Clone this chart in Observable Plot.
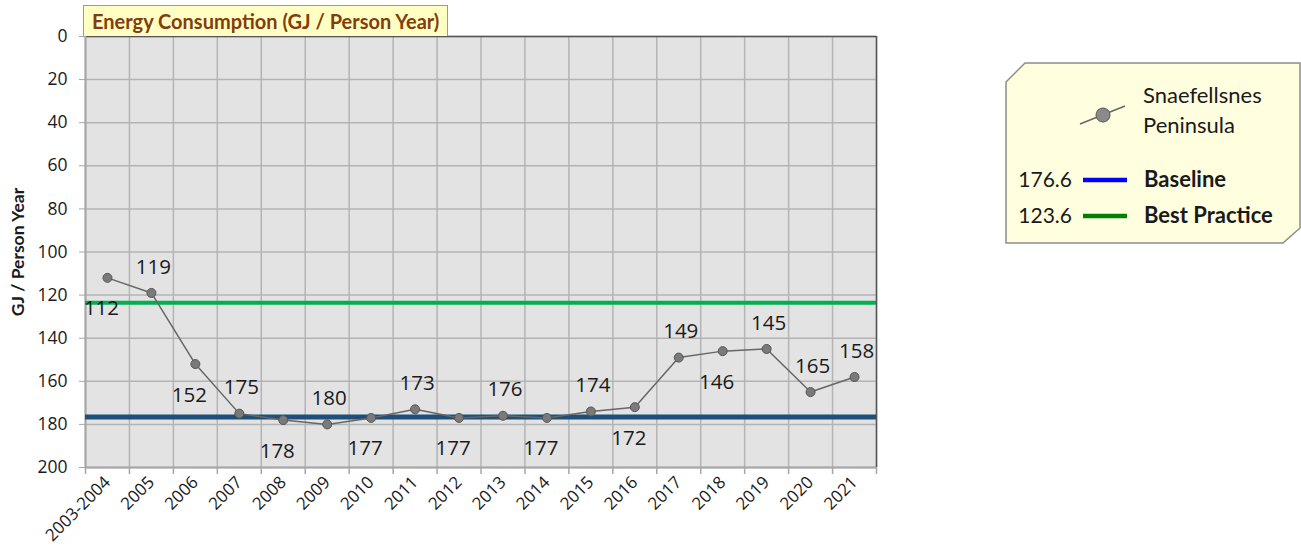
<!DOCTYPE html>
<html>
<head>
<meta charset="utf-8">
<script src="https://cdn.jsdelivr.net/npm/d3@7"></script>
<script src="https://cdn.jsdelivr.net/npm/@observablehq/plot@0.6"></script>
<style>
  html, body { margin: 0; padding: 0; background: #fff; }
  body { width: 1301px; height: 554px; position: relative; overflow: hidden; font-family: Lato, "Open Sans", sans-serif; }
  #chart { position: absolute; left: 0; top: 0; }
  #title { position: absolute; left: 83px; top: 5px; width: 365px; height: 31px; background: #ffffc4; border: 1px solid #9a9a9a; border-bottom: none;
           color: #843c0c; font-weight: bold; font-size: 20px; line-height: 31px; padding-left: 8px; box-sizing: border-box; white-space: nowrap; }
  #legend { position: absolute; left: 1000px; top: 58px; }
</style>
</head>
<body>
<div id="chart"></div>
<div id="title"></div>
<div id="legend"></div>
<script>
// ---- data ----
const titleText = "Energy Consumption (GJ / Person Year)";
const yLabel = "GJ / Person Year";
const categories = ["2003-2004","2005","2006","2007","2008","2009","2010","2011","2012","2013","2014","2015","2016","2017","2018","2019","2020","2021"];
const values = [112,119,152,175,178,180,177,173,177,176,177,174,172,149,146,145,165,158];
const labelSide = ["below","above","below","above","below","above","below","above","below","above","below","above","below","above","below","above","above","above"];
const yTicks = [0,20,40,60,80,100,120,140,160,180,200];
const seriesName = ["Snaefellsnes", "Peninsula"];
const baselineValue = 176.6;
const bestPracticeValue = 123.6;
const refNames = ["Baseline", "Best Practice"];

// ---- table ----
const rows = categories.map((c, i) => ({ pos: i + 0.5, cat: c, v: values[i], side: labelSide[i] }));
const edges = d3.range(0, categories.length + 1);
const centers = d3.range(categories.length).map(i => i + 0.5);

const numFont = "'Open Sans', sans-serif";
const gridColor = "#b4b4b4";
const chart = Plot.plot({
  width: 890, height: 554,
  marginLeft: 85, marginRight: 14, marginTop: 36, marginBottom: 87,
  style: { fontFamily: numFont, color: "#1a1a1a", background: "transparent" },
  x: { type: "linear", domain: [0, categories.length], axis: null },
  y: { domain: [0, 200], reverse: true, axis: null },
  marks: [
    Plot.frame({ fill: "#e3e3e3", stroke: null }),
    Plot.ruleX(edges, { stroke: gridColor, strokeWidth: 1.5 }),
    Plot.ruleY(yTicks, { stroke: gridColor, strokeWidth: 1.5 }),
    Plot.ruleY([0], { stroke: "#555", strokeWidth: 1.5 }),
    Plot.ruleX([categories.length], { stroke: "#555", strokeWidth: 1.5 }),
    Plot.ruleY([200], { stroke: "#a6a6a6", strokeWidth: 2 }),
    Plot.ruleX([0], { stroke: "#a6a6a6", strokeWidth: 2 }),
    Plot.axisX({ ticks: edges, tickFormat: () => "", tickSize: 7, stroke: "#a6a6a6", strokeWidth: 1.5, label: null }),
    Plot.axisX({ ticks: centers, tickFormat: d => categories[Math.round(d - 0.5)], tickSize: 0, tickPadding: 12, tickRotate: -45, fontSize: 17, fill: "#1a1a1a", label: null }),
    Plot.axisY({ ticks: yTicks, tickSize: 6, tickPadding: 12, fontSize: 17.5, label: null, stroke: "#a6a6a6", fill: "#1a1a1a" }),
    Plot.text([yLabel], { frameAnchor: "left", textAnchor: "middle", rotate: -90, dx: -67, fontFamily: "Lato, sans-serif", fontWeight: "bold", fontSize: 17.5, fill: "#1a1a1a" }),
    Plot.ruleY([bestPracticeValue], { stroke: "#00b050", strokeWidth: 4 }),
    Plot.ruleY([baselineValue], { stroke: "#1f4e79", strokeWidth: 5 }),
    Plot.line(rows, { x: "pos", y: "v", stroke: "#666", strokeWidth: 1.5 }),
    Plot.dot(rows, { x: "pos", y: "v", r: 4.5, fill: "#7a7a7a", stroke: "#555", strokeWidth: 1 }),
    Plot.text(rows.filter(d => d.side === "above"), { x: "pos", y: "v", text: d => String(d.v), dy: -26, dx: 2, fontSize: 20.5, fill: "#1a1a1a" }),
    Plot.text(rows.filter(d => d.side === "below"), { x: "pos", y: "v", text: d => String(d.v), dy: 31, dx: -6, fontSize: 20.5, fill: "#1a1a1a" })
  ]
});
document.getElementById("chart").appendChild(chart);
document.getElementById("title").textContent = titleText;

// ---- legend ----
const lg = d3.select("#legend").append("svg").attr("width", 301).attr("height", 190);
lg.append("polygon")
  .attr("points", "6,24 25,5 300,5 300,170 283,185 6,185")
  .attr("fill", "#ffffe0").attr("stroke", "#8c8c8c").attr("stroke-width", 1.5);
const lf = "Lato, 'Open Sans', sans-serif";
lg.append("line").attr("x1", 80).attr("y1", 66).attr("x2", 125).attr("y2", 48).attr("stroke", "#666").attr("stroke-width", 1.5);
lg.append("circle").attr("cx", 103).attr("cy", 57).attr("r", 7).attr("fill", "#8a8a8a").attr("stroke", "#555");
lg.append("text").attr("x", 143).attr("y", 45).attr("font-family", lf).attr("font-size", 22).attr("fill", "#1a1a1a").text(seriesName[0]);
lg.append("text").attr("x", 143).attr("y", 75).attr("font-family", lf).attr("font-size", 22).attr("fill", "#1a1a1a").text(seriesName[1]);
const refs = [
  { v: baselineValue, name: refNames[0], color: "#0000ff", y: 122 },
  { v: bestPracticeValue, name: refNames[1], color: "#008000", y: 158 }
];
refs.forEach(r => {
  lg.append("text").attr("x", 72).attr("y", r.y + 7).attr("text-anchor", "end").attr("font-family", lf).attr("font-size", 21).attr("fill", "#1a1a1a").text(r.v.toFixed(1));
  lg.append("line").attr("x1", 83).attr("x2", 127).attr("y1", r.y).attr("y2", r.y).attr("stroke", r.color).attr("stroke-width", 4.5);
  lg.append("text").attr("x", 144).attr("y", r.y + 7).attr("font-family", lf).attr("font-weight", "bold").attr("font-size", 22).attr("fill", "#1a1a1a").text(r.name);
});
</script>
</body>
</html>
